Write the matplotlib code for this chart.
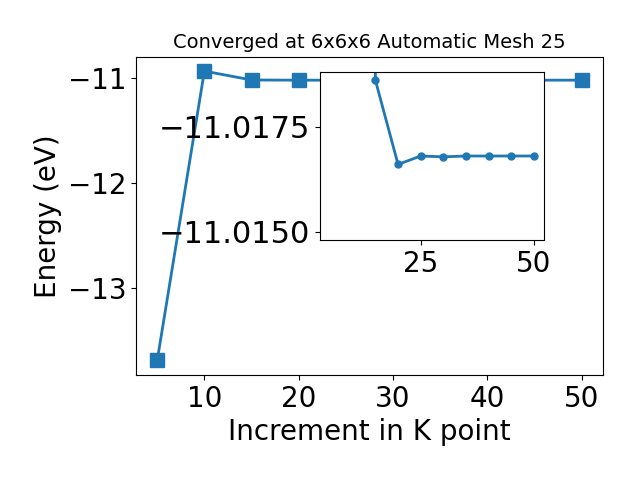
import numpy as np
import matplotlib
matplotlib.use('Agg')
import matplotlib.pyplot as plt

# k point increments and total energies (eV)
kpoints = [5, 10, 15, 20, 25, 30, 35, 40, 45, 50]
energy = [-13.695, -10.933, -11.0177, -11.0197, -11.0195, -11.01952,
          -11.0195, -11.0195, -11.0195, -11.0195]
inset_ticks = [-11.0188, -11.0213]
inset_ticklabels = ['\u221211.0175', '\u221211.0150']

fig = plt.figure(figsize=(6.4, 4.8), dpi=100)
ax = fig.add_axes([0.2125, 0.219, 0.7295, 0.663])
ax.plot(kpoints, energy, 's-', color='#1f77b4', linewidth=2, markersize=10)
ax.set_xlabel('Increment in K point', fontsize=20)
ax.set_ylabel('Energy (eV)', fontsize=20)
ax.set_title('Converged at 6x6x6 Automatic Mesh 25', fontsize=14)
ax.tick_params(labelsize=20)

# zoomed inset, from 10 onwards
axins = fig.add_axes([0.5, 0.5, 0.35, 0.35])
axins.plot(kpoints[1:], energy[1:], 'o-', color='#1f77b4', linewidth=2, markersize=5)
axins.set_xlim(ax.get_xlim())
axins.set_ylim(-11.0215, -11.0175)
axins.set_xticks([25, 50])
axins.set_yticks(inset_ticks)
axins.set_yticklabels(inset_ticklabels)
axins.tick_params(axis='x', labelsize=20)
axins.tick_params(axis='y', labelsize=22)

fig.savefig('out.png', dpi=100)
